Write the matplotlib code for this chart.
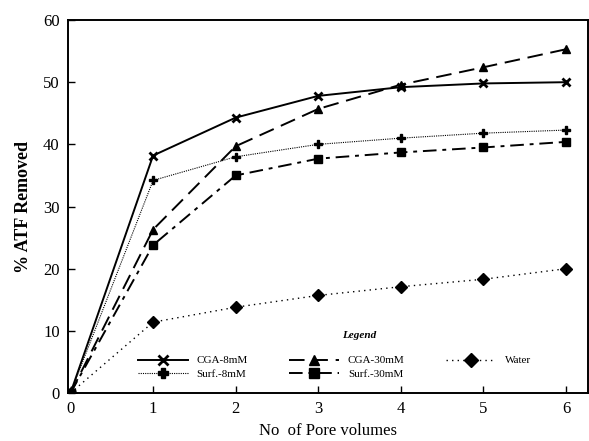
import matplotlib
matplotlib.use("Agg")
import matplotlib.pyplot as plt

# pore volumes and % ATF removed
pore_vols = [0, 1, 2, 3, 4, 5, 6]
cga_8 = [0, 38.2, 44.3, 47.8, 49.2, 49.8, 50.0]
cga_30 = [0, 26.3, 39.7, 45.7, 49.6, 52.4, 55.3]
surf_8 = [0, 34.2, 38.0, 40.0, 41.0, 41.8, 42.3]
surf_30 = [0, 23.8, 35.0, 37.7, 38.7, 39.5, 40.4]
water = [0, 11.4, 13.8, 15.7, 17.1, 18.3, 20.0]

labels = ["CGA-8mM", "CGA-30mM", "Water", "Surf.-8mM", "Surf.-30mM"]

plt.rcParams['font.family'] = ['Liberation Serif', 'DejaVu Serif']

fig = plt.figure(figsize=(5.89, 4.41), dpi=100, facecolor="white")
ax = fig.add_axes([0.1155, 0.1088, 0.882, 0.8458])

k = dict(color="black", markersize=6)
l1, = ax.plot(pore_vols, cga_8, "-", marker="x", mew=2, lw=1.4, **k)
l2, = ax.plot(pore_vols, cga_30, marker="^", lw=1.4, dashes=(8, 4), **k)
l3, = ax.plot(pore_vols, water, marker="D", lw=1.0, ls=(0, (1, 3)), **k)
l4, = ax.plot(pore_vols, surf_8, marker="P", lw=0.8, ls=(0, (1, 1)), **k)
l5, = ax.plot(pore_vols, surf_30, marker="s", lw=1.4, dashes=(7, 3, 2, 3), **k)

ax.set_xlim(-0.03, 6.26)
ax.set_ylim(0, 60)
ax.set_xticks(pore_vols)
ax.set_yticks(range(0, 61, 10))
ax.tick_params(direction="in", length=5, width=1, labelsize=12, pad=6)
for s in ax.spines.values():
    s.set_linewidth(1.4)

ax.set_xlabel("No  of Pore volumes", fontsize=12, labelpad=4)
ax.set_ylabel("% ATF Removed", fontsize=13, fontweight="bold", labelpad=8)

leg = ax.legend([l1, l4, l2, l5, l3],
                [labels[0], labels[3], labels[1], labels[4], labels[2]],
                ncol=3, frameon=False, fontsize=8,
                loc="lower left", bbox_to_anchor=(0.115, 0.012),
                handlelength=4.5, columnspacing=3.7, labelspacing=0.3,
                markerscale=1.15)
ax.text(0.56, 0.155, "Legend", transform=ax.transAxes, fontsize=8,
        fontweight="bold", fontstyle="italic", ha="center", va="center")

fig.savefig("out.png", dpi=100)
